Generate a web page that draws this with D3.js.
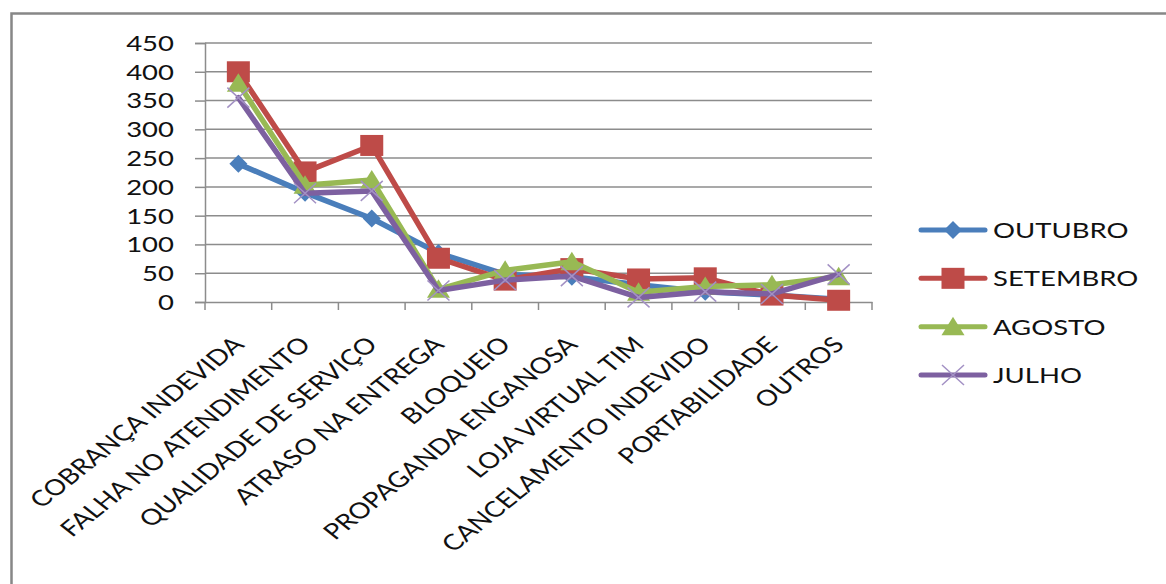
<!DOCTYPE html>
<html>
<head>
<meta charset="utf-8">
<script src="https://cdn.jsdelivr.net/npm/d3@7"></script>
<style>
  html, body { margin: 0; padding: 0; background: #fff; }
  svg { display: block; }
  text { font-family: Lato, "Open Sans", sans-serif; fill: #111; }
</style>
</head>
<body>
<svg id="chart" width="1166" height="584"></svg>
<script>
// Complaint categories and monthly counts
const categories = [
  "COBRANÇA INDEVIDA", "FALHA NO ATENDIMENTO", "QUALIDADE DE SERVIÇO",
  "ATRASO NA ENTREGA", "BLOQUEIO", "PROPAGANDA ENGANOSA", "LOJA VIRTUAL TIM",
  "CANCELAMENTO INDEVIDO", "PORTABILIDADE", "OUTROS"
];
const outubro  = [240, 190, 145, 85, 48, 44, 30, 18, 12, 5];
const setembro = [400, 226, 272, 76, 38, 58, 40, 42, 12, 3];
const agosto   = [380, 203, 212, 22, 55, 70, 17, 27, 30, 44];
const julho    = [355, 189, 193, 20, 38, 45, 8, 18, 14, 48];
const seriesNames = ["OUTUBRO", "SETEMBRO", "AGOSTO", "JULHO"];
const yTicks = [0, 50, 100, 150, 200, 250, 300, 350, 400, 450];

const series = [
  { name: seriesNames[0], values: outubro,  color: "#4a7ebb", marker: "diamond" },
  { name: seriesNames[1], values: setembro, color: "#be4b48", marker: "square" },
  { name: seriesNames[2], values: agosto,   color: "#98b954", marker: "triangle" },
  { name: seriesNames[3], values: julho,    color: "#7d60a0", marker: "cross" }
];

const svg = d3.select("#chart");
const stretch = 1.25;       // horizontal stretch applied to text glyphs
const fontSize = 22;

// outer frame
svg.append("rect")
  .attr("x", 11.5).attr("y", 13.5)
  .attr("width", 1200).attr("height", 700)
  .attr("fill", "none").attr("stroke", "#878787").attr("stroke-width", 2.5);

const plot = { left: 205, right: 872, top: 43, bottom: 302 };

const x = d3.scaleBand().domain(categories).range([plot.left, plot.right]).paddingInner(0).paddingOuter(0);
const y = d3.scaleLinear().domain([0, 450]).range([plot.bottom, plot.top]);
const cx = c => x(c) + x.bandwidth() / 2;

// horizontal gridlines
svg.append("g").selectAll("line").data(yTicks.filter(t => t > 0)).join("line")
  .attr("x1", plot.left).attr("x2", plot.right)
  .attr("y1", d => y(d)).attr("y2", d => y(d))
  .attr("stroke", "#8c8c8c").attr("stroke-width", 1.5);

// y axis
const yAxis = svg.append("g").attr("transform", `translate(${plot.left},0)`)
  .call(d3.axisLeft(y).tickValues(yTicks).tickSize(10).tickFormat(""));
yAxis.select(".domain").attr("stroke", "#8c8c8c").attr("stroke-width", 1.5);
yAxis.selectAll(".tick line").attr("stroke", "#8c8c8c").attr("stroke-width", 1.5);

svg.append("g").selectAll("text").data(yTicks).join("text")
  .attr("transform", d => `translate(174,${y(d)}) scale(${stretch},1)`)
  .attr("text-anchor", "end").attr("dy", "0.36em")
  .attr("font-size", fontSize)
  .text(d => d);

// x axis with ticks between categories
const xAxis = svg.append("g").attr("transform", `translate(0,${plot.bottom})`)
  .call(d3.axisBottom(x).tickSize(0).tickFormat(""));
xAxis.select(".domain").attr("stroke", "#8c8c8c").attr("stroke-width", 1.5);
const bounds = categories.map(c => x(c)).concat([plot.right]);
svg.append("g").selectAll("line").data(bounds).join("line")
  .attr("x1", d => d).attr("x2", d => d)
  .attr("y1", plot.bottom).attr("y2", plot.bottom + 8)
  .attr("stroke", "#8c8c8c").attr("stroke-width", 1.5);

// rotated category labels
svg.append("g").selectAll("text").data(categories).join("text")
  .attr("transform", d => `translate(${cx(d) + 7},346) scale(${stretch},1) rotate(-45)`)
  .attr("text-anchor", "end")
  .attr("font-size", fontSize)
  .text(d => d);

// markers
function drawMarker(g, type, color) {
  if (type === "diamond") {
    g.append("path").attr("d", "M0,-9 L9,0 L0,9 L-9,0 Z").attr("fill", color);
  } else if (type === "square") {
    g.append("rect").attr("x", -11.5).attr("y", -10.5).attr("width", 23).attr("height", 21).attr("fill", color);
  } else if (type === "triangle") {
    g.append("path").attr("d", "M0,-10 L11.5,8.5 L-11.5,8.5 Z").attr("fill", color);
  } else {
    g.append("path").attr("d", "M-11,-10 L11,10 M-11,10 L11,-10")
      .attr("stroke", "#a391c4").attr("stroke-width", 1.5).attr("fill", "none");
  }
}

const line = d3.line().x((d, i) => cx(categories[i])).y(d => y(d));

series.forEach(s => {
  const g = svg.append("g");
  g.append("path").datum(s.values)
    .attr("d", line)
    .attr("fill", "none").attr("stroke", s.color)
    .attr("stroke-width", 5.5).attr("stroke-linejoin", "round").attr("stroke-linecap", "round");
  g.selectAll("g.m").data(s.values).join("g").attr("class", "m")
    .attr("transform", (d, i) => `translate(${cx(categories[i])},${y(d)})`)
    .each(function () { drawMarker(d3.select(this), s.marker, s.color); });
});

// legend
const legendY = d3.scalePoint().domain(seriesNames).range([230, 375]);
const legend = svg.append("g");
series.forEach(s => {
  const ly = legendY(s.name);
  legend.append("line").attr("x1", 921).attr("x2", 985).attr("y1", ly).attr("y2", ly)
    .attr("stroke", s.color).attr("stroke-width", 5).attr("stroke-linecap", "round");
  drawMarker(legend.append("g").attr("transform", `translate(953,${ly})`), s.marker, s.color);
  legend.append("text")
    .attr("transform", `translate(993,${ly}) scale(${stretch},1)`)
    .attr("dy", "0.36em").attr("font-size", fontSize)
    .text(s.name);
});
</script>
</body>
</html>
